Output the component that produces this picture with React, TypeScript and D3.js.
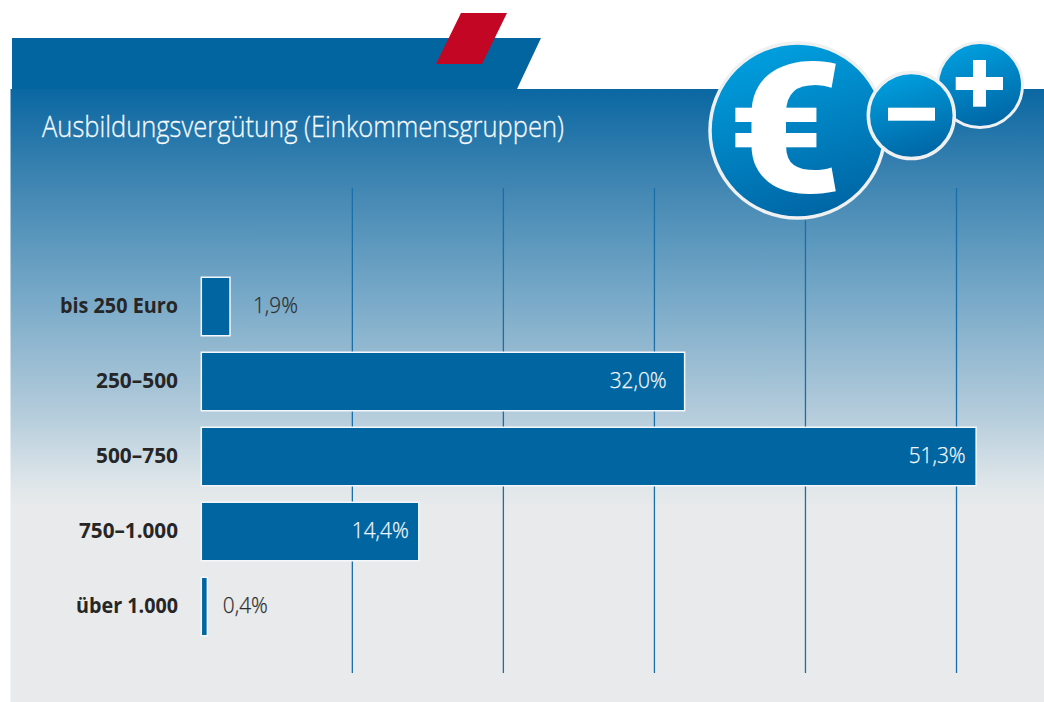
import React from "react";
import * as d3 from "d3";

const W = 1044;
const H = 702;
const titleText = "Ausbildungsvergütung (Einkommensgruppen)";
const categories = ["bis 250 Euro", "250–500", "500–750", "750–1.000", "über 1.000"];
const values = [1.9, 32.0, 51.3, 14.4, 0.4];
const valueLabels = ["1,9%", "32,0%", "51,3%", "14,4%", "0,4%"];
const gridTicks = [10, 20, 30, 40, 50];
const insideBar = [false, true, true, true, false];
const labelWidths = [118, 82, 82, 99, 102];
const valueWidths = [45, 57, 57, 57, 45];
const valueGaps = [23, 18, 10.5, 10, 15.5];

const FONT = '"Open Sans", "Noto Sans", sans-serif';

export default function App() {
  const x = d3.scaleLinear().domain([0, 50]).range([201.3, 956.5]);
  const y = d3.scaleBand<string>().domain(categories).range([269, 644]).paddingInner(0.21).paddingOuter(0.105);
  const bw = 58.5;
  return (
    <svg width={W} height={H} viewBox={`0 0 ${W} ${H}`} style={{ position: "absolute", left: 0, top: 0, display: "block" }}>
      <defs>
        <linearGradient id="panel" x1="0" y1="89" x2="0" y2="506" gradientUnits="userSpaceOnUse">
          <stop offset="0" stopColor="#0a67a2" />
          <stop offset="0.2" stopColor="#3a82b0" />
          <stop offset="0.5" stopColor="#78a9c8" />
          <stop offset="0.78" stopColor="#b4ccdb" />
          <stop offset="0.94" stopColor="#dde5e9" />
          <stop offset="1" stopColor="#e8eaec" />
        </linearGradient>
        <linearGradient id="disc" x1="0.3" y1="0" x2="0.6" y2="1">
          <stop offset="0" stopColor="#00a0e0" />
          <stop offset="1" stopColor="#0065a4" />
        </linearGradient>
      </defs>
      <rect width={W} height={H} fill="#fff" />
      <path d="M12,38 H541 L517,89 H12 Z" fill="#0265a0" />
      <path d="M461,13 H507 L482,64 H436 Z" fill="#c30623" />
      <rect x={10.5} y={89} width={W - 10.5} height={417} fill="url(#panel)" />
      <rect x={10.5} y={506} width={W - 10.5} height={196} fill="#e8eaec" />
      <text x={42} y={137} fontFamily={FONT} fontWeight={300} fontSize={30} fill="#f7fafc" stroke="#f7fafc" strokeWidth={0.3} textLength={522} lengthAdjust="spacingAndGlyphs">{titleText}</text>

      {gridTicks.map((t) => (
        <line key={t} x1={x(t)} x2={x(t)} y1={188} y2={673} stroke="#1a6fa8" strokeWidth={1.3} />
      ))}

      {categories.map((c, i) => {
        const by = (y(c) as number) + (y.bandwidth() - bw) / 2;
        const bx = x(0);
        const bwid = x(values[i]) - x(0);
        const mid = by + bw / 2;
        const inside = insideBar[i];
        const col = inside ? "#f4f7fa" : "#2e2e2e";
        return (
          <g key={c}>
            <rect x={bx} y={by} width={bwid} height={bw} fill="#0065a0" stroke="#f4f7f9" strokeWidth={1.5} />
            <text x={178} y={mid + 6} textAnchor="end" fontFamily={FONT} fontWeight={700} fontSize={21.5} fill="#262626" textLength={labelWidths[i]} lengthAdjust="spacingAndGlyphs">{c}</text>
            <text
              x={inside ? x(values[i]) - valueGaps[i] : x(values[i]) + valueGaps[i]}
              y={mid + 6}
              textAnchor={inside ? "end" : "start"}
              fontFamily={FONT}
              fontWeight={300}
              fontSize={21.5}
              fill={col}
              stroke={col}
              strokeWidth={0.25}
              textLength={valueWidths[i]}
              lengthAdjust="spacingAndGlyphs"
            >
              {valueLabels[i]}
            </text>
          </g>
        );
      })}

      <circle cx={797.5} cy={130.5} r={87.5} fill="url(#disc)" stroke="#eef0f2" strokeWidth={3.5} />
      <text transform="translate(785,192) scale(1.1,1)" textAnchor="middle" fontFamily="Roboto, sans-serif" fontWeight={900} fontSize={182} fill="#fff">€</text>
      <circle cx={980} cy={85} r={42.5} fill="url(#disc)" stroke="#eef0f2" strokeWidth={3} />
      <rect x={955.7} y={77} width={47.3} height={13} fill="#fff" />
      <rect x={973} y={60} width={13} height={46.7} fill="#fff" />
      <circle cx={911.3} cy={115.5} r={43} fill="url(#disc)" stroke="#eef0f2" strokeWidth={3.5} />
      <rect x={888} y={107.7} width={47} height={13} fill="#fff" />
    </svg>
  );
}
